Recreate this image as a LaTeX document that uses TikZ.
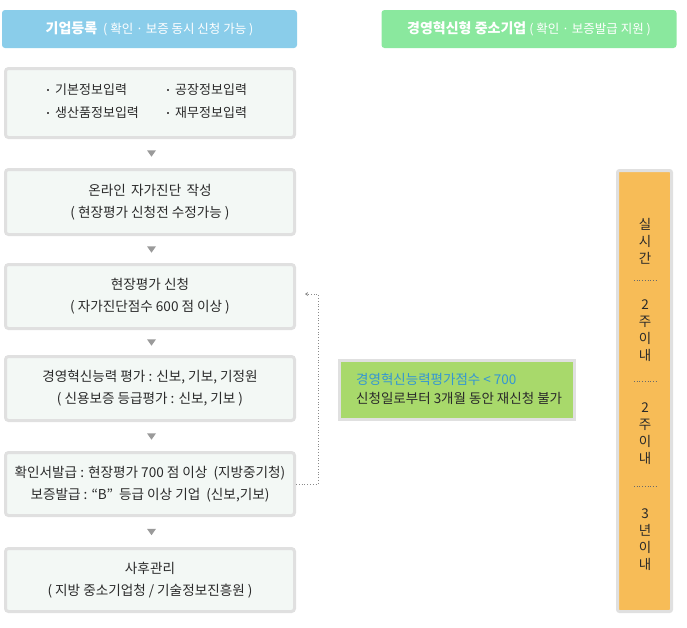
\documentclass[tikz,border=0pt]{standalone}
\usepackage{fontspec}
\setmainfont{Noto Sans CJK KR}
\usetikzlibrary{arrows.meta,calc}
\definecolor{hdrblue}{HTML}{8ACDEA}
\definecolor{hdrgreen}{HTML}{8AE89E}
\definecolor{boxfill}{HTML}{F3F8F5}
\definecolor{boxline}{HTML}{E0E0E0}
\definecolor{txt}{HTML}{2A2A2A}
\definecolor{tri}{HTML}{9A9A9A}
\definecolor{notefill}{HTML}{A8D96B}
\definecolor{noteblue}{HTML}{3496D3}
\definecolor{barfill}{HTML}{F7BC57}
\definecolor{dotgray}{HTML}{8A8A8A}
\tikzset{
  header/.style={rounded corners=3pt, minimum width=295pt, minimum height=38pt, text=white, inner sep=0pt},
  stepbox/.style={draw=boxline, line width=3pt, fill=boxfill, rounded corners=3pt, minimum width=289pt,
    align=center, text=txt, font=\fontsize{13.6}{22}\selectfont, inner sep=0pt},
  notebox/.style={draw=boxline, line width=3pt, fill=notefill, minimum width=235pt, minimum height=59pt, inner sep=0pt},
  notetext/.style={anchor=west, inner sep=0pt, font=\fontsize{13.5}{15}\selectfont},
  barbox/.style={draw=boxline, line width=3pt, fill=barfill, rounded corners=2pt, minimum width=54pt, minimum height=441pt, inner sep=0pt},
  bartext/.style={text=txt, font=\fontsize{13.5}{17}\selectfont, align=center, inner sep=0pt},
  itemtext/.style={text=txt, font=\fontsize{13}{15}\selectfont, anchor=west, inner sep=0pt},
  bulletmark/.style={fill=txt!80, minimum size=2.2pt, inner sep=0pt},
  flowtri/.style={fill=tri},
  dotline/.style={dotted, draw=dotgray, line width=0.8pt},
  sepline/.style={dotted, draw=txt!70, line width=0.7pt}
}
\newcommand{\hbig}[1]{{\fontsize{14}{16}\selectfont\bfseries #1}}
\newcommand{\hsmall}[1]{{\fontsize{12.5}{14}\selectfont #1}}
\begin{document}
\begin{tikzpicture}[x=1pt,y=-1pt]
\useasboundingbox (0,0) rectangle (687,627);
% headers
\node[header, fill=hdrblue] (hA) at (149.5,29) {\hbig{기업등록}\hspace{6pt}\hsmall{( 확인 · 보증 동시 신청 가능 )}};
\node[header, fill=hdrgreen] (hB) at (529,29) {\hbig{경영혁신형 중소기업}\hspace{3pt}\hsmall{( 확인 · 보증발급 지원 )}};
% step boxes
\node[stepbox, minimum height=69pt] (b1) at (150,103) {};
\node[bulletmark] (m1) at (48,90) {};
\node[itemtext] (i1) at (55,90) {기본정보입력};
\node[bulletmark] (m2) at (168,90) {};
\node[itemtext] (i2) at (175,90) {공장정보입력};
\node[bulletmark] (m3) at (48,113) {};
\node[itemtext] (i3) at (55,113) {생산품정보입력};
\node[bulletmark] (m4) at (168,113) {};
\node[itemtext] (i4) at (175,113) {재무정보입력};
\node[stepbox, minimum height=65pt] (b2) at (150,202) {온라인 \,자가진단 \,작성\\( 현장평가 신청전 수정가능 )};
\node[stepbox, minimum height=64pt] (b3) at (150,296.5) {현장평가 신청\\( 자가진단점수 600 점 이상 )};
\node[stepbox, minimum height=64pt] (b4) at (150,388.5) {경영혁신능력 평가 : 신보, 기보, 기정원\\( 신용보증 등급평가 : 신보, 기보 )};
\node[stepbox, minimum height=63pt] (b5) at (150,484) {확인서발급 : 현장평가 700 점 이상 \ (지방중기청)\\보증발급 : “B” \ 등급 이상 기업 \ (신보,기보)};
\node[stepbox, minimum height=63pt] (b6) at (150,580) {사후관리\\( 지방 중소기업청 / 기술정보진흥원 )};
% flow triangles
\foreach \a/\b in {b1/b2,b2/b3,b3/b4,b4/b5,b5/b6}{
  \coordinate (t) at ($(\a.south)!0.5!(\b.north)+(1.5,0)$);
  \fill[flowtri] ($(t)+(-4.5,-3.2)$) -- ($(t)+(4.5,-3.2)$) -- ($(t)+(0,3.2)$) -- cycle;
}
% note box
\node[notebox] (nb) at (457,390) {};
\node[notetext, text=noteblue] (n1) at (356,379) {경영혁신능력평가점수 < 700};
\node[notetext, text=txt] (n2) at (356,398) {신청일로부터 3개월 동안 재신청 불가};
% dotted feedback connector
\coordinate (fb) at (305,294);
\draw[dotline, -{Stealth[length=3pt,width=4pt]}] (b5.east) -- ++(22,0) |- (fb);
% time bar
\node[barbox] (bar) at (644.5,391) {};
\node[bartext] (c1) at (645,241) {실\\시\\간};
\node[bartext] (c2) at (645,330.5) {2\\주\\이\\내};
\node[bartext] (c3) at (645,433.5) {2\\주\\이\\내};
\node[bartext] (c4) at (645,539.5) {3\\년\\이\\내};
\foreach \y in {280,381,486}{
  \draw[sepline] (634,\y) -- (656,\y);
}
\end{tikzpicture}
\end{document}
